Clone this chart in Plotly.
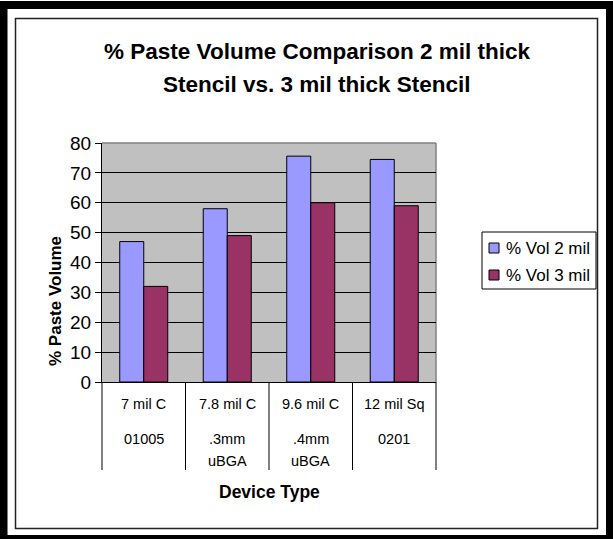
import plotly.graph_objects as go

# Data
categories = ["7 mil C", "7.8 mil C", "9.6 mil C", "12 mil Sq"]
packages = ["01005", ".3mm uBGA", ".4mm uBGA", "0201"]
vol_2mil = [47, 58, 75.6, 74.5]
vol_3mil = [32, 49, 60, 59]
series_names = ["% Vol 2 mil", "% Vol 3 mil"]
series_colors = ["#9999FF", "#993366"]
y_ticks = [0, 10, 20, 30, 40, 50, 60, 70, 80]

W, H = 613, 539
# plot area edges in pixels
L, R, T, B = 102, 436, 143, 382
FONT = "Arial, 'Liberation Sans', sans-serif"


def px(x):
    return (x - L) / (R - L)


def py(y):
    return (B - y) / (B - T)


fig = go.Figure()
for name, vals, col in zip(series_names, [vol_2mil, vol_3mil], series_colors):
    fig.add_trace(go.Bar(
        x=categories, y=vals, name=name,
        marker=dict(color=col, line=dict(color="black", width=1)),
        showlegend=False,
    ))

shapes = []
# grey plot-area fill
shapes.append(dict(type="rect", xref="paper", yref="paper", x0=0, x1=1, y0=0, y1=1,
                   fillcolor="#C0C0C0", line=dict(width=0), layer="below"))
# thick outer frame
for x0, y0, x1, y1 in [(0, 1, 7.5, 539), (0, 1, 613, 9), (606, 1, 613, 539), (0, 535, 613, 539)]:
    shapes.append(dict(type="rect", xref="paper", yref="paper", x0=px(x0), x1=px(x1),
                       y0=py(y0), y1=py(y1), fillcolor="black", line=dict(width=0), layer="above"))
# inner chart border
shapes.append(dict(type="rect", xref="paper", yref="paper", x0=px(15.5), x1=px(597.5),
                   y0=py(18.5), y1=py(528.5), line=dict(color="#222222", width=1.5),
                   fillcolor="rgba(0,0,0,0)", layer="below"))
# top and right plot-area edges
shapes.append(dict(type="line", xref="paper", yref="paper", x0=0, x1=1, y0=1, y1=1,
                   line=dict(color="#808080", width=1.5), layer="below"))
shapes.append(dict(type="line", xref="paper", yref="paper", x0=1, x1=1, y0=0, y1=1,
                   line=dict(color="#808080", width=1.5), layer="below"))
# category separators below the axis (category boundaries as axis fractions)
n_cat = len(categories)
for i in range(n_cat + 1):
    shapes.append(dict(type="line", xref="x domain", yref="paper", x0=i / n_cat, x1=i / n_cat,
                       y0=py(382), y1=py(470), line=dict(color="black", width=1)))

# legend box with swatches
leg_left, leg_right, leg_top, leg_bottom = 482, 596, 232, 289
shapes.append(dict(type="rect", xref="paper", yref="paper", x0=px(leg_left), x1=px(leg_right),
                   y0=py(leg_top), y1=py(leg_bottom), line=dict(color="black", width=1),
                   fillcolor="white"))
annotations = []
for k, (name, col) in enumerate(zip(series_names, series_colors)):
    yc = 248 + 27 * k
    shapes.append(dict(type="rect", xref="paper", yref="paper", x0=px(489), x1=px(499),
                       y0=py(yc - 5), y1=py(yc + 5), line=dict(color="black", width=1),
                       fillcolor=col))
    annotations.append(dict(text=name, xref="paper", yref="paper", x=px(504), y=py(yc),
                            xanchor="left", yanchor="middle", showarrow=False,
                            font=dict(size=17, color="black", family=FONT)))

title_lines = ["% Paste Volume Comparison 2 mil thick", "Stencil vs. 3 mil thick Stencil"]
for line, yc in zip(title_lines, [51, 84]):
    annotations.append(dict(text="<b>" + line + "</b>", xref="paper", yref="paper",
                            x=px(317), y=py(yc), xanchor="center", yanchor="middle",
                            showarrow=False, font=dict(size=22.5, color="black", family=FONT)))
for cat, pkg in zip(categories, packages):
    annotations.append(dict(text=cat, xref="x", yref="paper", x=cat, y=py(404),
                            xanchor="center", yanchor="middle", showarrow=False,
                            font=dict(size=14.5, color="black", family=FONT)))
    words = pkg.split(" ")
    for w, yc in zip(words, [439, 461]):
        annotations.append(dict(text=w, xref="x", yref="paper", x=cat, y=py(yc),
                                xanchor="center", yanchor="middle", showarrow=False,
                                font=dict(size=14.5, color="black", family=FONT)))
annotations.append(dict(text="<b>Device Type</b>", xref="paper", yref="paper",
                        x=px(269), y=py(492), xanchor="center", yanchor="middle",
                        showarrow=False, font=dict(size=17.5, color="black", family=FONT)))
annotations.append(dict(text="<b>% Paste Volume</b>", xref="paper", yref="paper",
                        x=px(55), y=py(301), xanchor="center", yanchor="middle",
                        textangle=-90, showarrow=False,
                        font=dict(size=17, color="black", family=FONT)))

fig.update_layout(
    template="none",
    width=W, height=H,
    margin=dict(l=L, r=W - R, t=T, b=H - B, pad=0, autoexpand=False),
    paper_bgcolor="white", plot_bgcolor="rgba(0,0,0,0)",
    barmode="group", bargap=0.425, bargroupgap=0,
    font=dict(family=FONT, color="black"),
    showlegend=False, hovermode=False,
    shapes=shapes, annotations=annotations,
    xaxis=dict(showticklabels=False, ticks="", showgrid=False, gridcolor="rgba(0,0,0,0)",
               tickson="labels", showspikes=False,
               showline=True, linecolor="black", linewidth=1,
               range=[-0.5, len(categories) - 0.5], fixedrange=True, zeroline=False),
    yaxis=dict(range=[0, 80], tickvals=y_ticks, showgrid=True, gridcolor="black",
               gridwidth=1, zeroline=False, showline=True, linecolor="black", linewidth=1,
               ticks="outside", ticklen=6, tickcolor="black",
               tickfont=dict(size=19, family=FONT, color="black"), fixedrange=True),
)

fig.write_html("out.html")
